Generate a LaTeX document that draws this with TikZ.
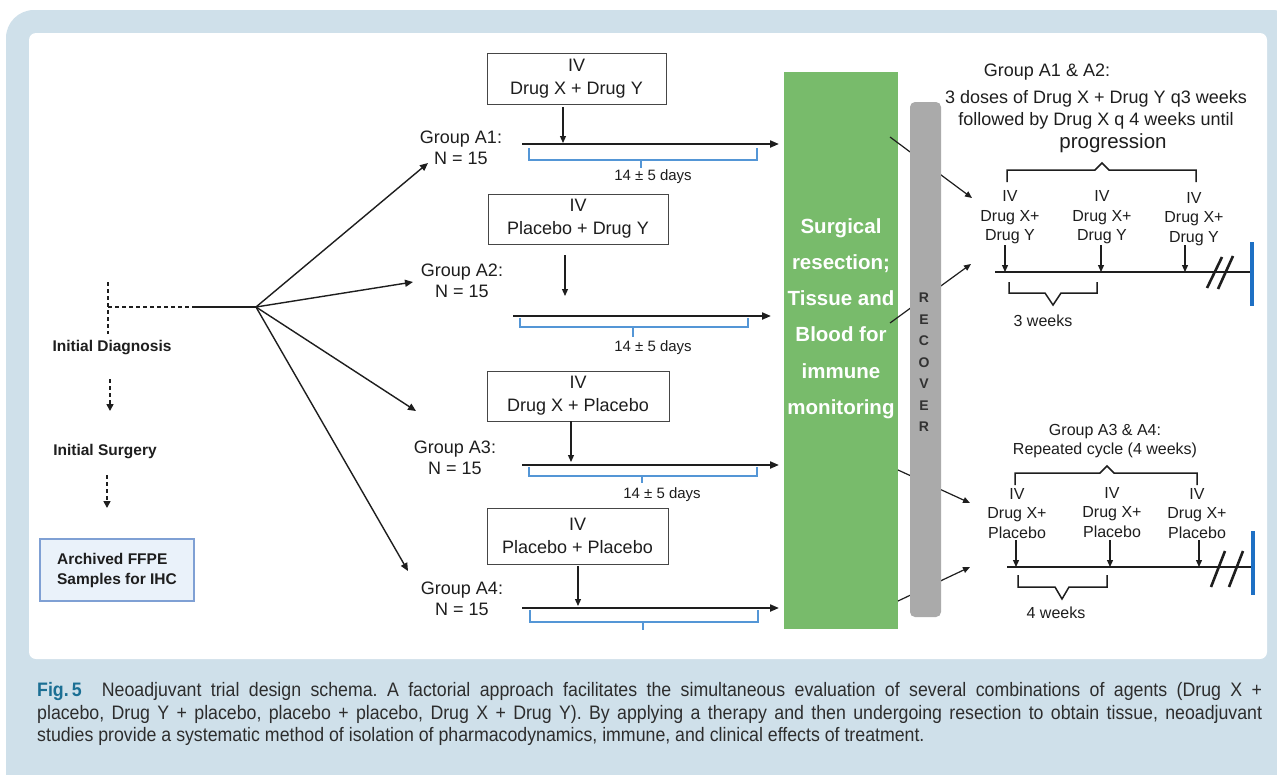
\documentclass[tikz,border=0pt]{standalone}
\usepackage{fontspec}
\setmainfont{Liberation Sans}
\newfontfamily\capfont[FakeStretch=0.91]{Liberation Sans}
\usetikzlibrary{arrows.meta}
\frenchspacing
\definecolor{frameblue}{RGB}{207,224,234}
\definecolor{greenbox}{RGB}{120,187,107}
\definecolor{grayboxc}{RGB}{170,170,170}
\definecolor{archfill}{RGB}{234,242,250}
\definecolor{archdraw}{RGB}{127,160,212}
\definecolor{brackc}{RGB}{84,150,214}
\definecolor{barblue}{RGB}{30,112,196}
\definecolor{figteal}{RGB}{27,111,148}
\definecolor{inkc}{RGB}{30,30,30}
\definecolor{capc}{RGB}{45,45,45}
\definecolor{boxc}{RGB}{70,70,70}
\definecolor{recc}{RGB}{50,50,50}
\tikzset{
 txt/.style={inner sep=0pt, align=center, text=inkc, font=\fontsize{18}{21}\selectfont},
 smalltxt/.style={inner sep=0pt, align=center, text=inkc, font=\fontsize{16}{19.5}\selectfont},
 daystxt/.style={inner sep=0pt, align=center, text=inkc, font=\fontsize{15}{18}\selectfont},
 boldtxt/.style={inner sep=0pt, align=center, text=inkc, font=\bfseries\fontsize{15.5}{19}\selectfont},
 drugbox/.style={draw=boxc, line width=1pt, inner sep=0pt, align=center, text=inkc, font=\fontsize{18}{23}\selectfont},
 arr/.style={draw=inkc, line width=1.4pt, -{Triangle[length=8pt,width=7pt]}},
 sarr/.style={draw=inkc, line width=1.2pt, -{Triangle[length=7pt,width=6pt]}},
 tline/.style={draw=inkc, line width=2pt, -{Triangle[length=9pt,width=7pt]}},
 plainline/.style={draw=inkc, line width=1.5pt},
 brk/.style={draw=brackc, line width=1.2pt},
 dotline/.style={draw=inkc, line width=1.6pt, dash pattern=on 4pt off 3pt},
 dotarr/.style={dotline, -{Triangle[length=7pt,width=7pt]}},
 capline/.style={anchor=base west, inner sep=0pt, text=capc, font=\capfont\fontsize{19.5}{22.5}\selectfont},
}
\begin{document}
\begin{tikzpicture}[x=1pt,y=-1pt]
\useasboundingbox (0,0) rectangle (1277,774);
% frame
\fill[white] (0,0) rectangle (1277,774);
\fill[frameblue, rounded corners=28pt] (6,10) rectangle (1300,800);
\fill[white, rounded corners=7pt] (29,33) rectangle (1267,659);

% left column
\coordinate (dtop) at (108,282);
\coordinate (dcorner) at (108,307);
\coordinate (dbot) at (108,334);
\coordinate (dmid) at (193,307);
\coordinate (hub) at (256,307);
\draw[dotline] (dtop) -- (dbot);
\draw[dotline] (dcorner) -- (dmid);
\draw[plainline] (dmid) -- (hub);

\node[boldtxt] (diag) at (112,348) {Initial Diagnosis};
\node[boldtxt] (surg) at (105,452) {Initial Surgery};
\node[draw=archdraw, fill=archfill, line width=1.2pt, inner xsep=16pt, inner ysep=0pt,
      minimum width=154pt, minimum height=62pt, align=left, text=inkc,
      font=\bfseries\fontsize{15.5}{20}\selectfont] (arch) at (117,570) {Archived FFPE\\Samples for IHC};
\coordinate (d1a) at (110,379);
\coordinate (d1b) at (110,411);
\coordinate (d2a) at (107,475);
\coordinate (d2b) at (107,508);
\draw[dotarr] (d1a) -- (d1b);
\draw[dotarr] (d2a) -- (d2b);

% group labels
\node[txt] (gA1) at (461,147.5) {Group A1:\\N = 15};
\node[txt] (gA2) at (462,281) {Group A2:\\N = 15};
\node[txt] (gA3) at (455,457.5) {Group A3:\\N = 15};
\node[txt] (gA4) at (462,599) {Group A4:\\N = 15};
\coordinate (a1tip) at (428,163);
\coordinate (a2tip) at (413,282);
\coordinate (a3tip) at (416,411);
\coordinate (a4tip) at (408,571);
\draw[arr] (hub) -- (a1tip);
\draw[arr] (hub) -- (a2tip);
\draw[arr] (hub) -- (a3tip);
\draw[arr] (hub) -- (a4tip);

% drug boxes
\node[drugbox, minimum width=179pt, minimum height=51pt] (box1) at (576.5,78.5) {IV\\Drug X + Drug Y};
\node[drugbox, minimum width=180pt, minimum height=50pt] (box2) at (578,219) {IV\\Placebo + Drug Y};
\node[drugbox, minimum width=182pt, minimum height=50pt] (box3) at (578,396) {IV\\Drug X + Placebo};
\node[drugbox, minimum width=181pt, minimum height=56pt] (box4) at (577.5,536) {IV\\Placebo + Placebo};

% down arrows from boxes
\coordinate (b1a) at (563,107); \coordinate (b1b) at (563,143);
\coordinate (b2a) at (565,255); \coordinate (b2b) at (565,296);
\coordinate (b3a) at (571,421); \coordinate (b3b) at (571,462);
\coordinate (b4a) at (578,566); \coordinate (b4b) at (578,606);
\draw[sarr] (b1a) -- (b1b);
\draw[sarr] (b2a) -- (b2b);
\draw[sarr] (b3a) -- (b3b);
\draw[sarr] (b4a) -- (b4b);

% timelines
\coordinate (t1s) at (522,144); \coordinate (t1e) at (779,144);
\coordinate (t2s) at (513,316); \coordinate (t2e) at (771,316);
\coordinate (t3s) at (522,465); \coordinate (t3e) at (779,465);
\coordinate (t4s) at (522,608); \coordinate (t4e) at (779,608);
\draw[tline] (t1s) -- (t1e);
\draw[tline] (t2s) -- (t2e);
\draw[tline] (t3s) -- (t3e);
\draw[tline] (t4s) -- (t4e);

% blue brackets
\draw[brk] (529,148) -- (529,160) -- (757,160) -- (757,148);
\draw[brk] (641,160) -- (641,168);
\node[daystxt] (days1) at (653,177) {14 ± 5 days};
\draw[brk] (520,318) -- (520,327) -- (748,327) -- (748,318);
\draw[brk] (633,327) -- (633,337);
\node[daystxt] (days2) at (653,348) {14 ± 5 days};
\draw[brk] (529,467) -- (529,476) -- (757,476) -- (757,467);
\draw[brk] (642,476) -- (642,483);
\node[daystxt] (days3) at (662,495) {14 ± 5 days};
\draw[brk] (530,610) -- (530,622) -- (758,622) -- (758,610);
\draw[brk] (643,622) -- (643,630);

% green box
\fill[greenbox] (784,72) rectangle (898,629);
\node[inner sep=0pt, align=center, text=white, font=\bfseries\fontsize{20.5}{36.2}\selectfont] (surgtxt) at (841,318.5)
  {Surgical\\resection;\\Tissue and\\Blood for\\immune\\monitoring};

% crossing arrows
\coordinate (c1s) at (890,137); \coordinate (c1e) at (972,198);
\coordinate (c2s) at (890,323); \coordinate (c2e) at (971,264);
\coordinate (c3s) at (898,470); \coordinate (c3e) at (970,503);
\coordinate (c4s) at (898,601); \coordinate (c4e) at (970,567);
\draw[sarr] (c1s) -- (c1e);
\draw[sarr] (c2s) -- (c2e);
\draw[sarr] (c3s) -- (c3e);
\draw[sarr] (c4s) -- (c4e);

% gray recover bar
\fill[grayboxc, rounded corners=5pt] (910,102) rectangle (941,617);
\node[inner sep=0pt, align=center, text=recc, font=\bfseries\fontsize{14}{21.5}\selectfont] (recov) at (924,362.5)
  {R\\E\\C\\O\\V\\E\\R};

% right top
\node[txt] (rtA) at (1047,72) {Group A1 \& A2:};
\node[txt, font=\fontsize{18}{22}\selectfont] (rtB) at (1096,110) {3 doses of Drug X + Drug Y q3 weeks\\followed by Drug X q 4 weeks until};
\node[txt, font=\fontsize{20.5}{24}\selectfont] (rtC) at (1113,143) {progression};
\draw[plainline] (1007,182) -- (1007,170) -- (1095,170) -- (1102,163) -- (1109,170) -- (1196,170) -- (1196,182);
\node[smalltxt] (u1) at (1010,217.5) {IV\\Drug X+\\Drug Y};
\node[smalltxt] (u2) at (1102,217.5) {IV\\Drug X+\\Drug Y};
\node[smalltxt] (u3) at (1194,219) {IV\\Drug X+\\Drug Y};
\coordinate (ua1) at (1005,245); \coordinate (ub1) at (1005,272);
\coordinate (ua2) at (1101,245); \coordinate (ub2) at (1101,272);
\coordinate (ua3) at (1185,245); \coordinate (ub3) at (1185,272);
\draw[sarr] (ua1) -- (ub1);
\draw[sarr] (ua2) -- (ub2);
\draw[sarr] (ua3) -- (ub3);
\coordinate (ut1) at (995,272); \coordinate (ut2) at (1251,272);
\draw[draw=inkc, line width=1.5pt] (ut1) -- (ut2);
\draw[draw=inkc, line width=2.6pt] (1207,288) -- (1222,257);
\draw[draw=inkc, line width=2.6pt] (1218,289) -- (1233,256);
\draw[draw=barblue, line width=4pt] (1252,242) -- (1252,306);
\draw[plainline] (1009,282) -- (1009,293) -- (1045,293) -- (1053,305) -- (1061,293) -- (1097,293) -- (1097,282);
\node[smalltxt] (w3) at (1043,321) {3 weeks};

% right bottom
\node[smalltxt, font=\fontsize{16}{19}\selectfont] (rbA) at (1105,441.5) {Group A3 \& A4:\\Repeated cycle (4 weeks)};
\draw[plainline] (1015,485) -- (1015,473) -- (1100,473) -- (1107,466) -- (1114,473) -- (1197,473) -- (1197,485);
\node[smalltxt] (v1) at (1017,513.5) {IV\\Drug X+\\Placebo};
\node[smalltxt] (v2) at (1112,512.5) {IV\\Drug X+\\Placebo};
\node[smalltxt] (v3) at (1197,513.5) {IV\\Drug X+\\Placebo};
\coordinate (va1) at (1016,540); \coordinate (vb1) at (1016,567);
\coordinate (va2) at (1110,540); \coordinate (vb2) at (1110,567);
\coordinate (va3) at (1199,540); \coordinate (vb3) at (1199,567);
\draw[sarr] (va1) -- (vb1);
\draw[sarr] (va2) -- (vb2);
\draw[sarr] (va3) -- (vb3);
\coordinate (vt1) at (1007,567); \coordinate (vt2) at (1252,567);
\draw[draw=inkc, line width=1.5pt] (vt1) -- (vt2);
\draw[draw=inkc, line width=2.6pt] (1211,587) -- (1225,551);
\draw[draw=inkc, line width=2.6pt] (1229,587) -- (1243,551);
\draw[draw=barblue, line width=4pt] (1253,531) -- (1253,595);
\draw[plainline] (1018,575) -- (1018,587) -- (1055,587) -- (1062,599) -- (1069,587) -- (1107,587) -- (1107,575);
\node[smalltxt] (w4) at (1056,613) {4 weeks};

% caption
\node[capline] (cap1) at (37,696.5) {\makebox[1225pt][s]{\textbf{\color{figteal}Fig.\,5}\hspace{20pt}Neoadjuvant trial design schema. A factorial approach facilitates the simultaneous evaluation of several combinations of agents (Drug X +}};
\node[capline] (cap2) at (37,719) {\makebox[1225pt][s]{placebo, Drug Y + placebo, placebo + placebo, Drug X + Drug Y). By applying a therapy and then undergoing resection to obtain tissue, neoadjuvant}};
\node[capline] (cap3) at (37,741.5) {studies provide a systematic method of isolation of pharmacodynamics, immune, and clinical effects of treatment.};
\end{tikzpicture}
\end{document}
